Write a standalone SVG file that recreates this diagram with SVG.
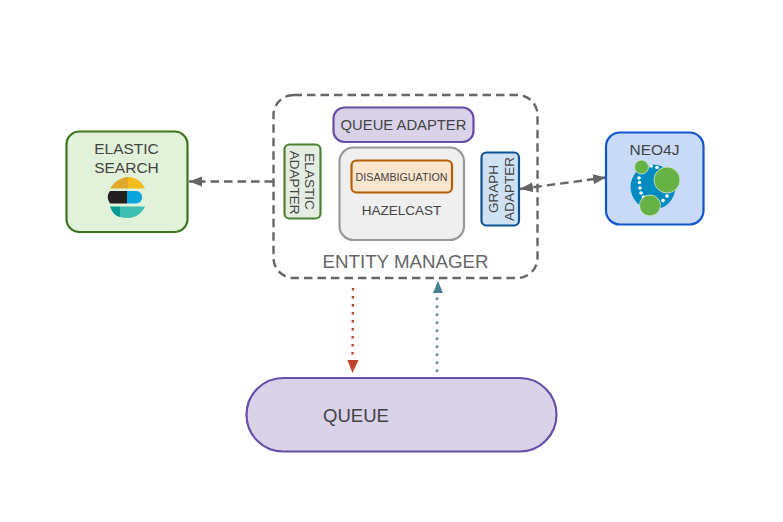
<svg xmlns="http://www.w3.org/2000/svg" width="783" height="522" viewBox="0 0 783 522">
<style>
text{font-family:"Liberation Sans",Arial,sans-serif;fill:#434343;text-anchor:middle}
.c{fill:none;stroke-linecap:butt}
.g{stroke:#666;stroke-width:2.4;stroke-dasharray:8.500 5}
.v{font-size:13.500px}
</style>
<defs>
<marker id="ag" markerUnits="userSpaceOnUse" markerWidth="14" markerHeight="12" refX="13" refY="5" orient="auto-start-reverse"><path d="M0 0L13 5L0 10z" fill="#666"/></marker>
</defs>
<rect width="783" height="522" fill="#fff"/>
<g id="connectors">
<path class="c g" d="M273 181.500H189" marker-end="url(#ag)"/>
<path class="c g" d="M520 189L606 177.500" marker-start="url(#ag)" marker-end="url(#ag)"/>
<path class="c" d="M353 288L352.500 361" stroke="#c0432b" stroke-width="2.400" stroke-dasharray="2.400 5.600"/>
<path d="M347.500 360H358.500L352.500 373z" fill="#c0432b"/>
<path class="c" d="M437 372V294" stroke="#5b7f8c" stroke-width="2.400" stroke-dasharray="2.400 5.600"/>
<path d="M433 293H443L438 281z" fill="#45818e"/>
</g>
<g id="entity-manager">
<rect x="273.500" y="95" width="264" height="183" rx="20" fill="none" stroke="#666" stroke-width="2.400" stroke-dasharray="8.500 5"/>
<text x="405.500" y="268" font-size="18.700" style="fill:#666">ENTITY MANAGER</text>
</g>
<g id="queue-adapter">
<rect x="333.500" y="107.500" width="140" height="34.500" rx="11" fill="#d9d2e9" stroke="#674ea7" stroke-width="2.200"/>
<text x="403.500" y="130" font-size="14.800">QUEUE ADAPTER</text>
</g>
<g id="hazelcast">
<rect x="339.500" y="147.500" width="124.500" height="92.500" rx="14" fill="#efefef" stroke="#999" stroke-width="2.200"/>
<text x="401.500" y="214.500" font-size="13.500">HAZELCAST</text>
</g>
<g id="disambiguation">
<rect x="351.500" y="160.500" width="100.500" height="32" rx="5" fill="#fce5cd" stroke="#b45f06" stroke-width="2.200"/>
<text x="401.500" y="181" font-size="10.700">DISAMBIGUATION</text>
</g>
<g id="elastic-adapter">
<rect x="284.500" y="144.500" width="36" height="74" rx="5" fill="#e3ebdf" stroke="#38761d" stroke-width="2.200" opacity=".9"/>
<text class="v" transform="translate(304.500 181.500) rotate(90)">ELASTIC</text>
<text class="v" transform="translate(290 182.500) rotate(90)">ADAPTER</text>
</g>
<g id="graph-adapter">
<rect x="481.500" y="152.500" width="37.500" height="73" rx="5" fill="#cfe2f3" stroke="#0b5394" stroke-width="2.200"/>
<text class="v" transform="translate(497.500 189) rotate(-90)">GRAPH</text>
<text class="v" transform="translate(514 189) rotate(-90)">ADAPTER</text>
</g>
<g id="elastic-search">
<rect x="66.500" y="131.500" width="121" height="100.500" rx="13" fill="#e2f2da" stroke="#38761d" stroke-width="2.200"/>
<text x="126.500" y="153.500" font-size="15.500">ELASTIC</text>
<text x="126.500" y="173" font-size="15.500">SEARCH</text>
<path d="M110 188.500C114 182 121 177 128 177V188.500z" fill="#dfa92d"/>
<path d="M128 177C136 177 142 182 145 188.500H128z" fill="#f4bd19"/>
<path d="M110 191H127V203.500H110C107 199 107 195 110 191z" fill="#231f20"/>
<path d="M127 191H136C144 191 144 203.500 136 203.500H127z" fill="#07a5de"/>
<path d="M110 206.500H120V217C115 216 112 212 110 206.500z" fill="#019b8f"/>
<path d="M120 206.500H145C142 213 136 218 128 218Q123 218 120 217z" fill="#3ebeb0"/>
</g>
<g id="neo4j">
<rect x="606" y="132.500" width="97.500" height="92" rx="14" fill="#c9daf8" stroke="#1155cc" stroke-width="2.200"/>
<text x="654.500" y="155" font-size="15.500">NEO4J</text>
<circle cx="653" cy="187" r="22.500" fill="#008cc1"/>
<g fill="#fff"><circle cx="651" cy="166" r="1.800"/><circle cx="657" cy="167.500" r="1.800"/><circle cx="639" cy="178" r="1.800"/><circle cx="639.500" cy="182.500" r="1.800"/><circle cx="640" cy="188" r="1.800"/><circle cx="641" cy="193" r="1.800"/><circle cx="643.500" cy="197" r="1.800"/><circle cx="663" cy="200.500" r="1.800"/><circle cx="667" cy="196" r="1.800"/></g>
<g fill="#66b245" stroke="#d5e8cc" stroke-width=".8"><circle cx="641.500" cy="167" r="7"/><circle cx="667" cy="180" r="13"/><circle cx="650" cy="205.500" r="10.500"/></g>
</g>
<g id="queue">
<rect x="246.500" y="378" width="310" height="73.500" rx="36.700" fill="#d9d2e9" stroke="#674ea7" stroke-width="2.200"/>
<text x="356" y="422" font-size="18.500">QUEUE</text>
</g>
</svg>
